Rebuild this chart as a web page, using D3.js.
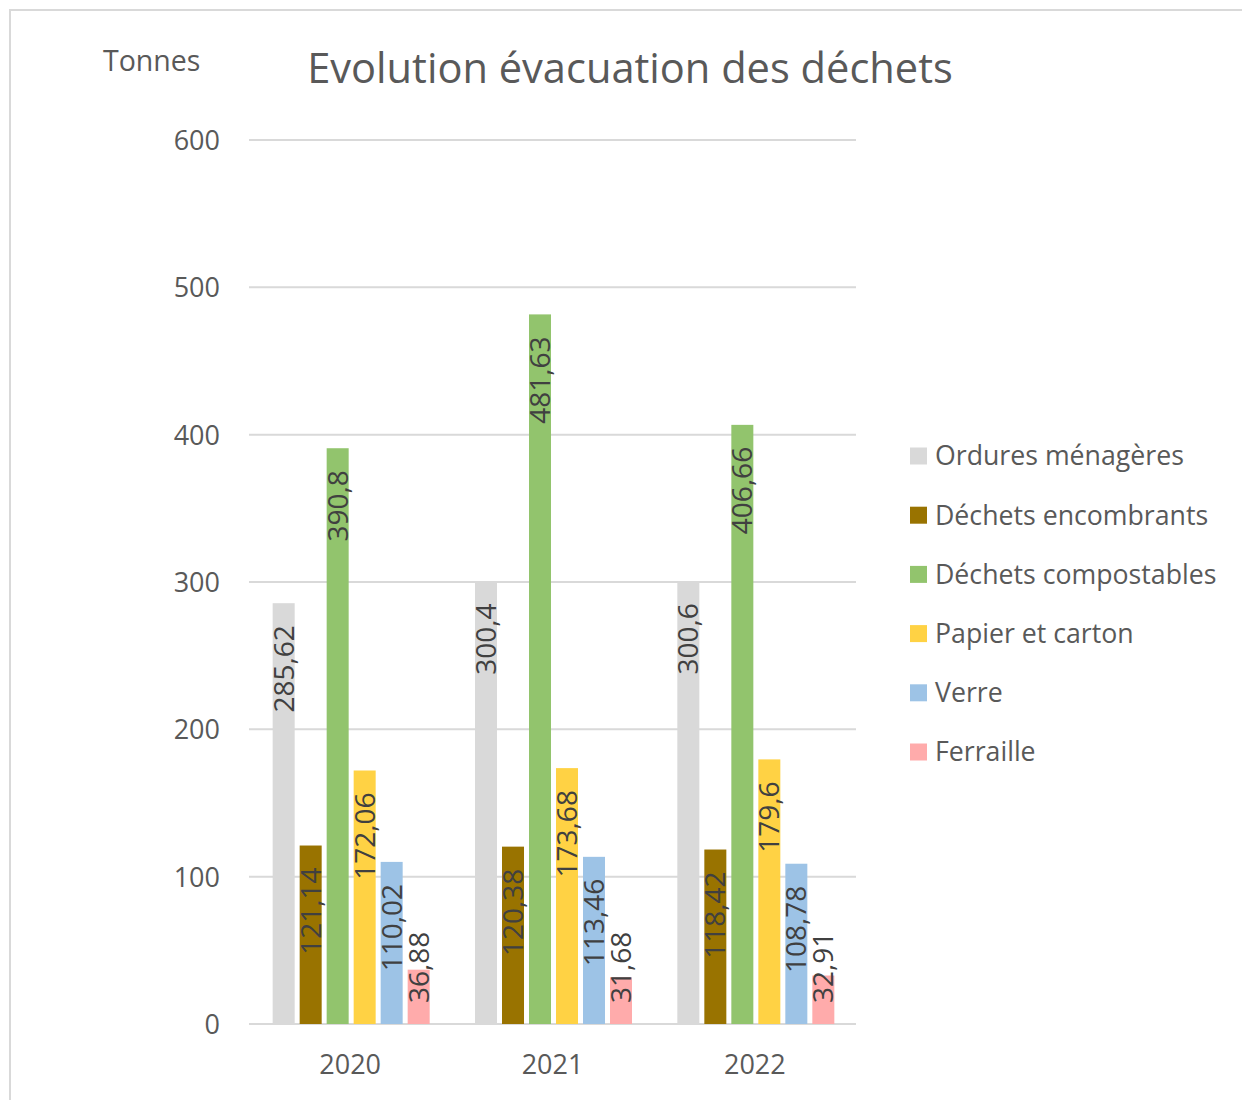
<!DOCTYPE html>
<html><head><meta charset="utf-8">
<script src="https://cdn.jsdelivr.net/npm/d3@7"></script>
<style>html,body{margin:0;padding:0;background:#fff;}svg{display:block;}</style>
</head><body>
<script>
const years = ["2020", "2021", "2022"];
const seriesNames = ["Ordures ménagères", "Déchets encombrants", "Déchets compostables", "Papier et carton", "Verre", "Ferraille"];
const seriesColors = ["#d9d9d9", "#997300", "#92c46d", "#ffd244", "#9dc3e6", "#ffabab"];
const ordures = [285.62, 300.4, 300.6];
const encombrants = [121.14, 120.38, 118.42];
const compostables = [390.8, 481.63, 406.66];
const papier = [172.06, 173.68, 179.6];
const verre = [110.02, 113.46, 108.78];
const ferraille = [36.88, 31.68, 32.91];
const yTicks = [0, 100, 200, 300, 400, 500, 600];
const titleText = "Evolution évacuation des déchets";
const unitText = "Tonnes";

const seriesValues = [ordures, encombrants, compostables, papier, verre, ferraille];
const data = [];
years.forEach((yr, i) => seriesNames.forEach((s, j) => data.push({year: yr, series: s, value: seriesValues[j][i], color: seriesColors[j]})));

const W = 1242, H = 1100;
const svg = d3.select("body").append("svg").attr("width", W).attr("height", H);
const font = "'Open Sans', 'Noto Sans', sans-serif";

// frame
svg.append("rect").attr("x", 10).attr("y", 10).attr("width", W + 20).attr("height", H + 20)
  .attr("fill", "none").attr("stroke", "#d9d9d9").attr("stroke-width", 2);

const y = d3.scaleLinear().domain([0, 600]).range([1024, 140]);
const x0 = d3.scaleBand().domain(years).range([249, 856]).padding(0);
const groupW = 157;
const x1 = d3.scaleBand().domain(seriesNames).range([0, groupW]).paddingInner(0.185).paddingOuter(0);

// gridlines
svg.append("g").selectAll("line").data(yTicks).join("line")
  .attr("x1", 249).attr("x2", 856).attr("y1", d => y(d)).attr("y2", d => y(d))
  .attr("stroke", "#d9d9d9").attr("stroke-width", 2);

// y axis labels
const yAxis = d3.axisLeft(y).tickValues(yTicks).tickSize(0).tickPadding(0).tickFormat(d3.format("d"));
const gy = svg.append("g").attr("transform", "translate(220,0)").call(yAxis);
gy.select(".domain").remove();
gy.selectAll("text").attr("font-family", font).attr("font-size", 27).attr("fill", "#595959").attr("dy", "0.35em");

// x axis labels
const xAxis = d3.axisBottom(x0).tickSize(0).tickPadding(0);
const gx = svg.append("g").attr("transform", "translate(0,1065)").call(xAxis);
gx.select(".domain").remove();
gx.selectAll("text").attr("font-family", font).attr("font-size", 27).attr("fill", "#595959").attr("dy", "0.35em");

// bars
const gx0 = d => x0(d.year) + x0.bandwidth() / 2 - groupW / 2 + x1(d.series) + 1;
svg.append("g").selectAll("rect").data(data).join("rect")
  .attr("x", d => gx0(d)).attr("width", x1.bandwidth())
  .attr("y", d => y(d.value)).attr("height", d => y(0) - y(d.value))
  .attr("fill", d => d.color);

// data labels
const fmt = v => String(v).replace(".", ",");
const labels = svg.append("g").selectAll("text").data(data).join("text")
  .attr("font-family", font).attr("font-size", 28).attr("fill", "#404040")
  .text(d => fmt(d.value));
labels.each(function(d) {
  const t = d3.select(this);
  const len = this.getComputedTextLength();
  const cx = gx0(d) + x1.bandwidth() / 2;
  const top = y(d.value) + 22;
  const limit = y(0) - 21;
  if (top + len <= limit) {
    t.attr("text-anchor", "end").attr("transform", `translate(${cx},${top}) rotate(-90)`);
  } else {
    t.attr("text-anchor", "start").attr("transform", `translate(${cx},${limit}) rotate(-90)`);
  }
  t.attr("dy", "0.36em");
});

// title
svg.append("text").attr("x", 630).attr("y", 68).attr("text-anchor", "middle").attr("dy", "0.35em")
  .attr("font-family", font).attr("font-size", 41.6).attr("fill", "#595959").text(titleText);
svg.append("text").attr("x", 103).attr("y", 61).attr("dy", "0.35em")
  .attr("font-family", font).attr("font-size", 28.5).attr("fill", "#595959").text(unitText);

// legend
const legY = d3.scalePoint().domain(seriesNames).range([456, 752]);
const leg = svg.append("g").selectAll("g").data(seriesNames).join("g")
  .attr("transform", d => `translate(910,${legY(d)})`);
leg.append("rect").attr("x", 0).attr("y", -8.5).attr("width", 17).attr("height", 17)
  .attr("fill", (d, i) => seriesColors[i]);
leg.append("text").attr("x", 25).attr("y", 0).attr("dy", "0.35em")
  .attr("font-family", font).attr("font-size", 26.7).attr("fill", "#595959").text(d => d);
</script>
</body></html>
